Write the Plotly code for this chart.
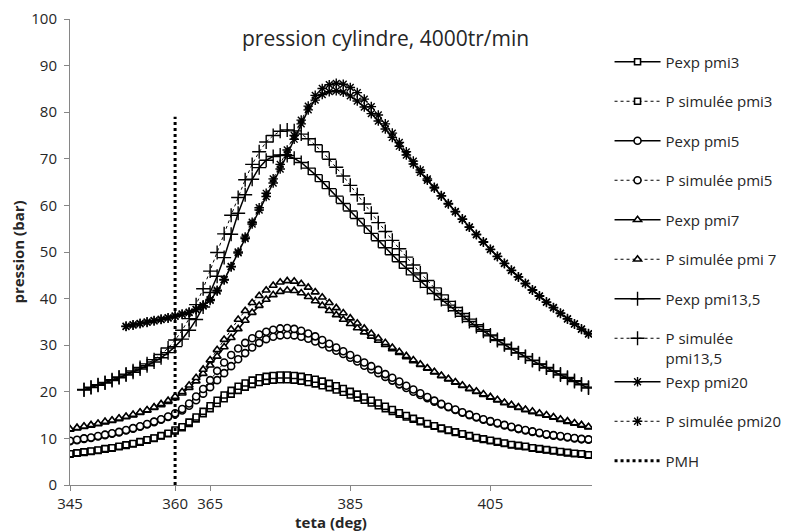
import plotly.graph_objects as go

# crank angle grid (deg)
THETA = [345, 346, 347, 348, 349, 350, 351, 352, 353, 354,
         355, 356, 357, 358, 359, 360, 361, 362, 363, 364,
         365, 366, 367, 368, 369, 370, 371, 372, 373, 374,
         375, 376, 377, 378, 379, 380, 381, 382, 383, 384,
         385, 386, 387, 388, 389, 390, 391, 392, 393, 394,
         395, 396, 397, 398, 399, 400, 401, 402, 403, 404,
         405, 406, 407, 408, 409, 410, 411, 412, 413, 414,
         415, 416, 417, 418, 419]

PEXP_PMI3 = [6.6, 6.8, 7.0, 7.2, 7.4, 7.7, 7.9, 8.2, 8.5, 8.8,
             9.2, 9.6, 10.0, 10.5, 11.0, 11.6, 12.3, 13.2, 14.2, 15.3,
             16.4, 17.5, 18.5, 19.5, 20.3, 21.0, 21.6, 22.0, 22.3, 22.5,
             22.6, 22.6, 22.5, 22.3, 22.0, 21.7, 21.3, 20.9, 20.4, 19.9,
             19.3, 18.7, 18.2, 17.6, 17.0, 16.4, 15.8, 15.2, 14.6, 14.1,
             13.6, 13.1, 12.6, 12.1, 11.7, 11.3, 10.9, 10.5, 10.1, 9.8,
             9.5, 9.2, 8.9, 8.6, 8.4, 8.2, 7.9, 7.7, 7.5, 7.3,
             7.1, 6.9, 6.7, 6.6, 6.4]
PSIM_PMI3 = [6.7, 6.9, 7.1, 7.3, 7.5, 7.8, 8.0, 8.3, 8.6, 8.9,
             9.3, 9.7, 10.1, 10.6, 11.1, 11.8, 12.5, 13.5, 14.6, 15.8,
             17.0, 18.2, 19.3, 20.3, 21.2, 21.9, 22.5, 23.0, 23.3, 23.5,
             23.6, 23.6, 23.5, 23.3, 23.0, 22.7, 22.3, 21.8, 21.3, 20.7,
             20.1, 19.5, 18.9, 18.2, 17.6, 16.9, 16.2, 15.5, 14.9, 14.3,
             13.7, 13.2, 12.7, 12.2, 11.8, 11.4, 11.0, 10.6, 10.2, 9.9,
             9.6, 9.3, 9.0, 8.7, 8.5, 8.3, 8.0, 7.8, 7.6, 7.4,
             7.2, 7.0, 6.8, 6.7, 6.5]
PEXP_PMI5 = [9.4, 9.6, 9.9, 10.1, 10.4, 10.7, 11.0, 11.3, 11.7, 12.1,
             12.5, 13.0, 13.5, 14.0, 14.6, 15.2, 16.0, 17.0, 18.2, 19.6,
             21.0, 22.5, 24.0, 25.5, 27.0, 28.3, 29.5, 30.5, 31.3, 31.8,
             32.1, 32.2, 32.1, 31.8, 31.4, 30.8, 30.2, 29.5, 28.8, 28.1,
             27.3, 26.5, 25.6, 24.8, 24.0, 23.2, 22.4, 21.6, 20.8, 20.0,
             19.3, 18.6, 17.9, 17.3, 16.7, 16.1, 15.5, 15.0, 14.5, 14.0,
             13.6, 13.2, 12.8, 12.4, 12.0, 11.7, 11.4, 11.1, 10.8, 10.6,
             10.4, 10.2, 10.0, 9.8, 9.7]
PSIM_PMI5 = [9.5, 9.7, 10.0, 10.2, 10.5, 10.8, 11.1, 11.4, 11.8, 12.2,
             12.6, 13.1, 13.6, 14.1, 14.7, 15.4, 16.3, 17.5, 19.0, 20.6,
             22.5, 24.5, 26.3, 27.9, 29.3, 30.5, 31.5, 32.3, 32.9, 33.3,
             33.6, 33.7, 33.5, 33.1, 32.5, 31.9, 31.1, 30.3, 29.5, 28.7,
             27.9, 27.1, 26.3, 25.5, 24.7, 23.8, 23.0, 22.2, 21.3, 20.5,
             19.7, 18.9, 18.1, 17.4, 16.8, 16.2, 15.6, 15.1, 14.6, 14.1,
             13.7, 13.3, 12.9, 12.5, 12.1, 11.8, 11.5, 11.2, 10.9, 10.7,
             10.5, 10.3, 10.1, 9.9, 9.8]
PEXP_PMI7 = [11.9, 12.2, 12.5, 12.8, 13.1, 13.5, 13.8, 14.2, 14.6, 15.0,
             15.5, 16.0, 16.6, 17.2, 17.9, 18.7, 19.7, 20.9, 22.3, 23.9,
             25.7, 27.6, 29.6, 31.6, 33.5, 35.3, 37.0, 38.5, 39.8, 40.8,
             41.5, 41.8, 41.7, 41.2, 40.4, 39.5, 38.5, 37.4, 36.5, 35.5,
             34.6, 33.7, 32.8, 31.9, 31.0, 30.1, 29.2, 28.4, 27.5, 26.6,
             25.8, 25.0, 24.2, 23.4, 22.7, 22.0, 21.3, 20.6, 20.0, 19.4,
             18.8, 18.2, 17.6, 17.1, 16.6, 16.1, 15.7, 15.3, 14.9, 14.5,
             14.0, 13.6, 13.2, 12.8, 12.4]
PSIM_PMI7 = [12.0, 12.3, 12.6, 12.9, 13.2, 13.6, 13.9, 14.3, 14.7, 15.1,
             15.6, 16.1, 16.7, 17.4, 18.1, 19.0, 20.0, 21.4, 23.0, 24.8,
             26.8, 29.0, 31.2, 33.4, 35.5, 37.4, 39.1, 40.6, 41.8, 42.8,
             43.5, 43.8, 43.7, 43.2, 42.4, 41.4, 40.3, 39.1, 38.0, 36.9,
             35.8, 34.7, 33.6, 32.5, 31.5, 30.5, 29.5, 28.6, 27.7, 26.8,
             25.9, 25.1, 24.3, 23.5, 22.8, 22.1, 21.4, 20.7, 20.1, 19.5,
             18.9, 18.3, 17.7, 17.2, 16.7, 16.2, 15.8, 15.4, 15.0, 14.6,
             14.1, 13.7, 13.3, 12.9, 12.5]

# pmi13,5 starts at 347 deg
THETA_13 = THETA[2:]
PEXP_PMI13 = [20.4, 20.9, 21.4, 21.9, 22.4, 23.0, 23.6, 24.2, 24.9, 25.6,
              26.4, 27.3, 28.4, 29.7, 31.3, 33.2, 35.5, 38.2, 41.3, 44.8,
              48.8, 53.8, 58.3, 62.3, 65.6, 68.1, 69.7, 70.5, 70.8, 70.7,
              70.1, 69.2, 68.0, 66.6, 65.1, 63.6, 62.0, 60.4, 58.8, 57.2,
              55.6, 54.0, 52.4, 50.9, 49.4, 47.9, 46.5, 45.1, 43.7, 42.4,
              41.1, 39.8, 38.6, 37.4, 36.2, 35.1, 34.0, 33.0, 32.0, 31.0,
              30.1, 29.2, 28.3, 27.5, 26.7, 25.9, 25.1, 24.4, 23.6, 22.9,
              22.2, 21.5, 20.8]
PSIM_PMI13 = [20.5, 21.0, 21.5, 22.0, 22.6, 23.2, 23.8, 24.5, 25.2, 26.0,
              26.9, 28.0, 29.4, 31.1, 33.2, 35.7, 38.7, 42.1, 45.9, 49.9,
              53.9, 57.9, 61.7, 65.5, 68.8, 71.5, 73.6, 75.0, 75.9, 76.2,
              76.0, 75.3, 74.3, 73.0, 71.5, 69.9, 68.2, 66.3, 64.3, 62.3,
              60.3, 58.3, 56.3, 54.4, 52.5, 50.7, 48.9, 47.2, 45.5, 43.9,
              42.3, 40.8, 39.4, 38.1, 36.8, 35.6, 34.4, 33.3, 32.2, 31.2,
              30.2, 29.3, 28.4, 27.6, 26.8, 26.0, 25.2, 24.5, 23.8, 23.1,
              22.4, 21.7, 21.0]

# pmi20 starts at 353 deg
THETA_20 = THETA[8:]
PEXP_PMI20 = [34.0, 34.3, 34.6, 34.9, 35.2, 35.5, 35.8, 36.2, 36.6, 37.0,
              37.6, 38.4, 39.6, 41.6, 44.0, 46.8, 49.8, 52.9, 56.0, 59.0,
              61.9, 64.8, 67.8, 70.9, 74.2, 77.5, 80.5, 82.6, 83.8, 84.4,
              84.6, 84.3, 83.5, 82.4, 81.1, 79.7, 78.1, 76.4, 74.6, 72.7,
              70.8, 68.9, 67.1, 65.4, 63.7, 62.0, 60.3, 58.6, 57.0, 55.3,
              53.7, 52.1, 50.5, 49.0, 47.5, 46.0, 44.6, 43.2, 41.8, 40.5,
              39.2, 38.0, 36.8, 35.6, 34.5, 33.4, 32.4]
PSIM_PMI20 = [34.1, 34.4, 34.7, 35.0, 35.3, 35.6, 35.9, 36.3, 36.7, 37.1,
              37.7, 38.5, 39.8, 41.8, 44.1, 46.9, 50.0, 53.2, 56.4, 59.5,
              62.6, 65.7, 68.8, 71.9, 75.0, 78.3, 81.3, 83.6, 85.1, 85.9,
              86.2, 86.0, 85.3, 84.2, 82.8, 81.2, 79.4, 77.5, 75.5, 73.5,
              71.5, 69.5, 67.6, 65.7, 63.9, 62.1, 60.4, 58.7, 57.1, 55.4,
              53.8, 52.2, 50.6, 49.1, 47.6, 46.1, 44.7, 43.3, 41.9, 40.6,
              39.3, 38.1, 36.9, 35.7, 34.6, 33.5, 32.5]

PMH_X = [360, 360]
PMH_Y = [0, 79]

X_TICKS = [345, 360, 365, 385, 405]
TITLE = "pression cylindre, 4000tr/min"
X_TITLE = "teta (deg)"
Y_TITLE = "pression (bar)"

FONT = "Open Sans"
fig = go.Figure()


def add(name, x, y, symbol, size, solid, legend, group, open_sym=False):
    if open_sym:
        marker = dict(symbol=symbol, size=size, color="black",
                      line=dict(color="black", width=1.4))
    else:
        marker = dict(symbol=symbol, size=size, color="white",
                      line=dict(color="black", width=1.6))
    fig.add_trace(go.Scatter(
        x=x, y=y, name=name, mode="lines+markers",
        line=dict(color="black", width=1.5 if solid else 1,
                  dash="solid" if solid else "dot"),
        marker=marker, legend=legend, legendgroup=group))


add("Pexp pmi3", THETA, PEXP_PMI3, "square", 6, True, "legend", "g1")
add("P simulée pmi3", THETA, PSIM_PMI3, "square", 6, False, "legend", "g2")
add("Pexp pmi5", THETA, PEXP_PMI5, "circle", 7, True, "legend", "g3")
add("P simulée pmi5", THETA, PSIM_PMI5, "circle", 7, False, "legend", "g4")
add("Pexp pmi7", THETA, PEXP_PMI7, "triangle-up", 7, True, "legend", "g5")
add("P simulée pmi 7", THETA, PSIM_PMI7, "triangle-up", 7, False, "legend", "g6")
add("Pexp pmi13,5", THETA_13, PEXP_PMI13, "cross-thin-open", 10, True, "legend", "g7", True)
add("P simulée<br>pmi13,5", THETA_13, PSIM_PMI13, "cross-thin-open", 10, False, "legend", "g8", True)
add("Pexp pmi20", THETA_20, PEXP_PMI20, "asterisk-open", 8, True, "legend2", "h1", True)
add("P simulée pmi20", THETA_20, PSIM_PMI20, "asterisk-open", 8, False, "legend2", "h2", True)

fig.add_trace(go.Scatter(
    x=PMH_X, y=PMH_Y, name="PMH", mode="lines",
    line=dict(color="black", width=3, dash="dot"),
    legend="legend2", legendgroup="h3"))

axis_col = "#868686"
legend_common = dict(xanchor="left", yanchor="top", traceorder="grouped",
                     tracegroupgap=17, valign="top", itemwidth=46,
                     font=dict(size=15), bgcolor="rgba(0,0,0,0)")
fig.update_layout(
    width=784, height=524,
    margin=dict(l=62, r=200, t=11, b=47, autoexpand=False),
    plot_bgcolor="white", paper_bgcolor="white",
    font=dict(family=FONT, size=15, color="#262626"),
    showlegend=True,
    xaxis=dict(range=[345, 419.5], tickvals=X_TICKS, ticks="outside",
               ticklen=5, tickcolor=axis_col, showline=True,
               linecolor=axis_col, showgrid=False, zeroline=False,
               tickfont=dict(size=15), automargin=False,
               title=dict(text="<b>" + X_TITLE + "</b>", font=dict(size=15),
                          standoff=0)),
    yaxis=dict(range=[0, 100], dtick=10, ticks="outside", ticklen=5,
               tickcolor=axis_col, showline=True, linecolor=axis_col,
               showgrid=False, zeroline=False, tickfont=dict(size=15),
               ticklabelstandoff=4, automargin=False,
               title=dict(text="<b>" + Y_TITLE + "</b>", font=dict(size=15),
                          standoff=4)),
    legend=dict(x=1.0336, y=0.9431, **legend_common),
    legend2=dict(x=1.0336, y=0.2564, **legend_common),
    annotations=[dict(text=TITLE, x=0.604, y=0.959, xref="paper",
                      yref="paper", showarrow=False, xanchor="center",
                      yanchor="middle",
                      font=dict(size=21, color="#262626"))],
)

fig.write_html("out.html")
